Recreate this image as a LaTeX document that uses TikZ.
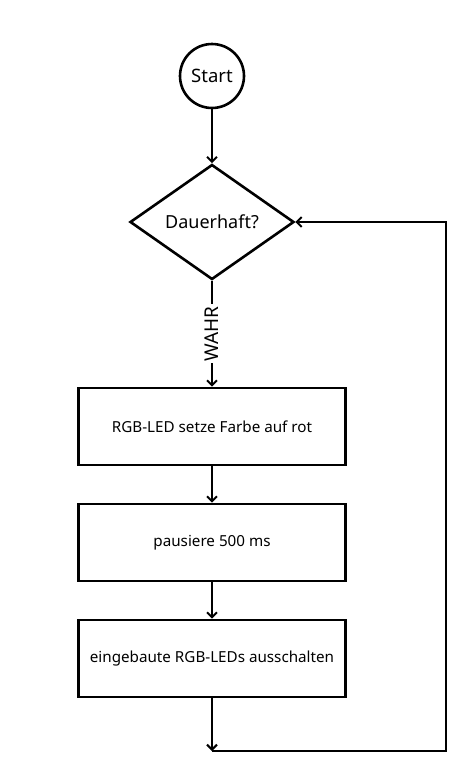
\documentclass[tikz,border=0pt]{standalone}
\usepackage{fontspec}
\setmainfont{Noto Sans}
\usetikzlibrary{shapes.geometric, arrows.meta}

\begin{document}
\begin{tikzpicture}[x=1pt, y=-1pt, line width=2.6pt,
    tip/.style={-{Straight Barb[length=5pt, width=10pt, line width=2pt]}},
    block/.style={draw, rectangle, minimum width=267pt, minimum height=77pt,
      font=\fontsize{15.2}{17}\selectfont}]
    \useasboundingbox (0, 0) rectangle (468, 777);

    \coordinate (loopEnd) at (212, 751);
    \coordinate (loopCorner) at (446, 751);

    \node[draw, circle, minimum size=64pt, inner sep=0pt,
      font=\fontsize{18.5}{20}\selectfont] (start) at (212, 76) {Start};
    \node[draw, diamond, minimum width=164pt, minimum height=115pt, inner sep=0pt,
      font=\fontsize{18}{20}\selectfont] (dauer) at (212, 222) {Dauerhaft?};
    \node[block] (rot) at (212, 426.5) {RGB-LED setze Farbe auf rot};
    \node[block] (pause) at (212, 542.5) {pausiere 500 ms};
    \node[block] (aus) at (212, 658.5) {eingebaute RGB-LEDs ausschalten};

    \draw[tip] (start) -- (dauer);
    \draw[tip] (dauer) -- (rot)
      node[midway, rotate=90, fill=white, inner sep=2pt,
        font=\fontsize{19}{20}\selectfont] (wahr) {WAHR};
    \draw[tip] (rot) -- (pause);
    \draw[tip] (pause) -- (aus);
    \draw[tip] (aus) -- (loopEnd);
    \draw[tip] (loopEnd) -- (loopCorner) |- (dauer.east);
  \end{tikzpicture}
\end{document}
